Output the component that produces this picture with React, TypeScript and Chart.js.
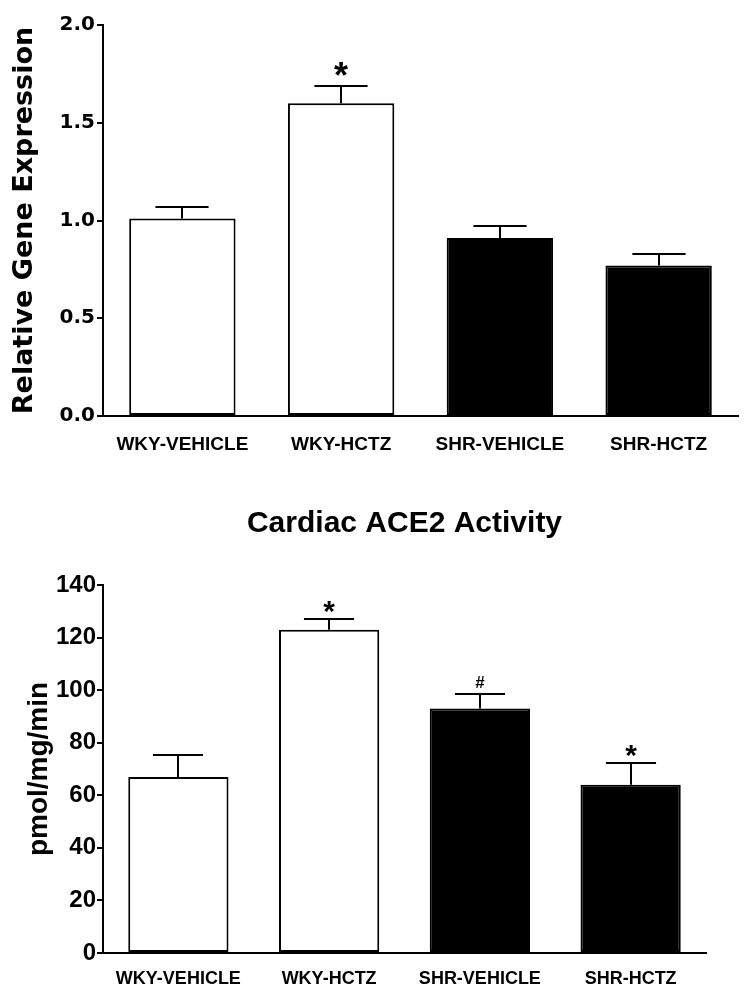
import React, { useEffect, useRef } from "react";
import { Chart, registerables } from "chart.js";

Chart.register(...registerables);

// ---------- data ----------
const categories = ["WKY-VEHICLE", "WKY-HCTZ", "SHR-VEHICLE", "SHR-HCTZ"];

const geneMeans = [1.01, 1.6, 0.91, 0.77];
const geneSem = [0.06, 0.09, 0.06, 0.06];
const geneMarkers = ["", "*", "", ""];
const geneTickLabels = ["0.0", "0.5", "1.0", "1.5", "2.0"];

const aceTitle = "Cardiac ACE2 Activity";
const aceMeans = [67, 123, 93, 64];
const aceSem = [8.3, 4, 5.5, 8.3];
const aceMarkers = ["", "*", "#", "*"];
const aceTickLabels = ["0", "20", "40", "60", "80", "100", "120", "140"];

const barColors = ["#ffffff", "#ffffff", "#000000", "#000000"];

// ---------- error bar plugin ----------
const errorBarPlugin = {
  id: "errorBars",
  afterDatasetsDraw(chart: any, _args: any, opts: any) {
    const { ctx } = chart;
    const meta = chart.getDatasetMeta(0);
    const yScale = chart.scales.y;
    ctx.save();
    ctx.strokeStyle = "#000";
    ctx.fillStyle = "#000";
    ctx.lineWidth = 2;
    meta.data.forEach((bar: any, i: number) => {
      const mean = opts.means[i];
      const sem = opts.sems[i];
      const x = Math.round(bar.x);
      const yBar = bar.y;
      const yTop = Math.round(yScale.getPixelForValue(mean + sem));
      const half = (bar.width * opts.capRatio) / 2;
      ctx.beginPath();
      ctx.moveTo(x, yBar);
      ctx.lineTo(x, yTop);
      ctx.moveTo(x - half, yTop);
      ctx.lineTo(x + half, yTop);
      ctx.stroke();
      const m = opts.markers[i];
      if (m) {
        const spec = opts.markerStyle[m];
        ctx.font = spec.font;
        ctx.textAlign = "center";
        ctx.textBaseline = "alphabetic";
        const tm = ctx.measureText(m);
        const center = yTop - spec.gap;
        const baseline =
          center + (tm.actualBoundingBoxAscent - tm.actualBoundingBoxDescent) / 2;
        ctx.fillText(m, x, baseline);
      }
    });
    ctx.restore();
  },
};

function makeConfig(p: {
  labels: string[];
  means: number[];
  sems: number[];
  markers: string[];
  tickLabels: string[];
  max: number;
  step: number;
  yTitle: string;
  yTitleFont: any;
  yTitlePad: number;
  yTickFont: any;
  yTickPad: number;
  xTickFont: any;
  xTickPad: number;
  xHeight: number;
  padding: any;
  barPct: number;
  title?: any;
  markerStyle: any;
}) {
  return {
    type: "bar" as const,
    data: {
      labels: p.labels,
      datasets: [
        {
          data: p.means,
          backgroundColor: barColors,
          borderColor: "#000000",
          borderWidth: 2,
          borderSkipped: false,
          barPercentage: p.barPct,
          categoryPercentage: 1.0,
        },
      ],
    },
    options: {
      animation: false,
      responsive: false,
      maintainAspectRatio: false,
      layout: { padding: p.padding },
      plugins: {
        legend: { display: false },
        tooltip: { enabled: false },
        title: p.title || { display: false },
        errorBars: {
          means: p.means,
          sems: p.sems,
          markers: p.markers,
          capRatio: 0.5,
          markerStyle: p.markerStyle,
        },
      },
      scales: {
        x: {
          grid: { display: false, drawTicks: false },
          border: { display: true, color: "#000", width: 2 },
          ticks: {
            color: "#000",
            font: p.xTickFont,
            padding: p.xTickPad,
            maxRotation: 0,
            autoSkip: false,
          },
          afterFit: (s: any) => {
            s.height = p.xHeight;
          },
        },
        y: {
          min: 0,
          max: p.max,
          grid: {
            display: true,
            drawOnChartArea: false,
            drawTicks: true,
            tickLength: 6,
            color: "#000",
            lineWidth: 2,
          },
          border: { display: true, color: "#000", width: 2 },
          ticks: {
            stepSize: p.step,
            color: "#000",
            font: p.yTickFont,
            padding: p.yTickPad,
            callback: (_v: any, i: number) => p.tickLabels[i],
          },
          title: {
            display: true,
            text: p.yTitle,
            color: "#000",
            font: p.yTitleFont,
            padding: { top: p.yTitlePad, bottom: 0 },
          },
          afterFit: (s: any) => {
            s.width = 103;
          },
        },
      },
    },
    plugins: [errorBarPlugin],
  };
}

export default function App() {
  const topRef = useRef<HTMLCanvasElement>(null);
  const botRef = useRef<HTMLCanvasElement>(null);

  useEffect(() => {
    const c1 = new Chart(
      topRef.current as HTMLCanvasElement,
      makeConfig({
        labels: categories,
        means: geneMeans,
        sems: geneSem,
        markers: geneMarkers,
        tickLabels: geneTickLabels,
        max: 2,
        step: 0.5,
        yTitle: "Relative Gene Expression",
        yTitleFont: { family: "'DejaVu Sans', sans-serif", size: 27, weight: "bold" },
        yTitlePad: 9,
        yTickFont: { family: "'DejaVu Sans', sans-serif", size: 20, weight: "bold" },
        yTickPad: 2,
        xTickFont: { family: "'Liberation Sans', Arial, sans-serif", size: 19, weight: "bold" },
        xTickPad: 17,
        xHeight: 54,
        padding: { top: 25, right: 11, left: 0, bottom: 0 },
        barPct: 0.67,
        markerStyle: {
          "*": { font: "bold 36px 'Liberation Sans', Arial, sans-serif", gap: 17 },
        },
      }) as any
    );
    const c2 = new Chart(
      botRef.current as HTMLCanvasElement,
      makeConfig({
        labels: categories,
        means: aceMeans,
        sems: aceSem,
        markers: aceMarkers,
        tickLabels: aceTickLabels,
        max: 140,
        step: 20,
        yTitle: "pmol/mg/min",
        yTitleFont: { family: "'Liberation Sans', Arial, sans-serif", size: 28, weight: "bold" },
        yTitlePad: 22,
        yTickFont: { family: "'Liberation Sans', Arial, sans-serif", size: 24, weight: "bold" },
        yTickPad: 1,
        xTickFont: { family: "'Liberation Sans', Arial, sans-serif", size: 18, weight: "bold" },
        xTickPad: 15,
        xHeight: 47,
        padding: { top: 0, right: 43, left: 0, bottom: 0 },
        barPct: 0.665,
        title: {
          display: true,
          text: aceTitle,
          color: "#000",
          fullSize: false,
          font: { family: "'Liberation Sans', Arial, sans-serif", size: 30, weight: "bold" },
          padding: { top: 26, bottom: 43 },
        },
        markerStyle: {
          "*": { font: "bold 30px 'Liberation Sans', Arial, sans-serif", gap: 12 },
          "#": { font: "bold 17px 'Liberation Sans', Arial, sans-serif", gap: 12 },
        },
      }) as any
    );
    return () => {
      c1.destroy();
      c2.destroy();
    };
  }, []);

  return (
    <div
      style={{
        position: "absolute",
        left: 0,
        top: 0,
        width: 749,
        height: 1000,
        background: "#fff",
      }}
    >
      <canvas
        ref={topRef}
        width={749}
        height={470}
        style={{ position: "absolute", left: 0, top: 0, width: 749, height: 470 }}
      />
      <canvas
        ref={botRef}
        width={749}
        height={520}
        style={{ position: "absolute", left: 0, top: 480, width: 749, height: 520 }}
      />
    </div>
  );
}
